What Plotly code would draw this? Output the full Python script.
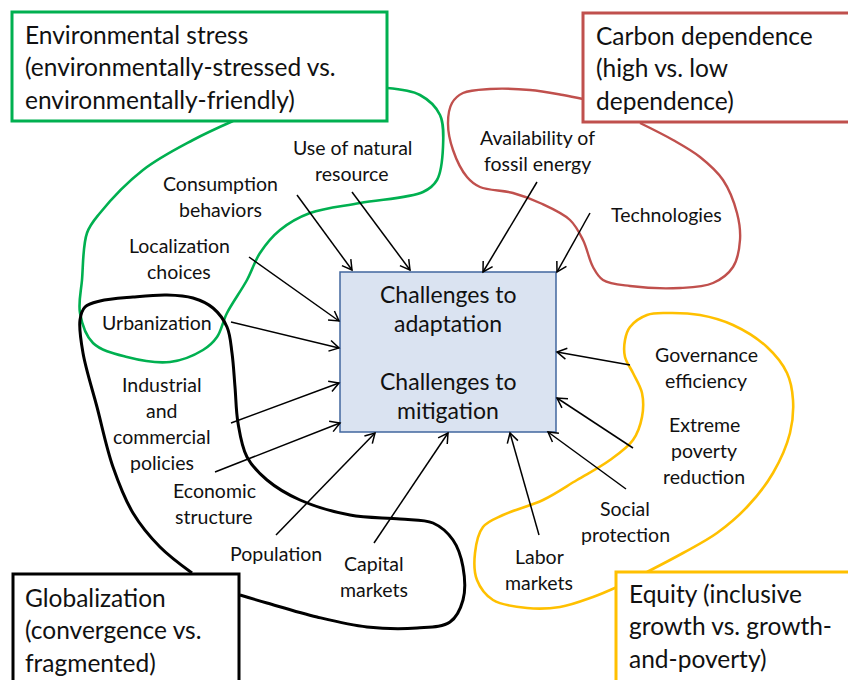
import math
import plotly.graph_objects as go

FONT = "Lato, 'Open Sans', sans-serif"

# ---- central box ----
center_box = [340, 272, 556, 432]
center_lines = ["Challenges to", "adaptation", "", "Challenges to", "mitigation"]
center_line_y = [294, 323, 352, 381, 410]

# ---- dimension frames (x0, y0, x1, y1) ----
frame_names = ["env", "carbon", "glob", "equity"]
frame_rects = [[12, 12, 387, 121], [583, 13, 875, 122], [13, 574, 239, 700], [616, 572, 875, 700]]
frame_colors = ["#00B050", "#C0504D", "#000000", "#FFC000"]
frame_text = [
    ["Environmental stress", "(environmentally-stressed vs.", "environmentally-friendly)"],
    ["Carbon dependence", "(high vs. low", "dependence)"],
    ["Globalization", "(convergence vs.", "fragmented)"],
    ["Equity (inclusive", "growth vs. growth-", "and-poverty)"],
]
frame_text_x = [23, 594, 23, 627]
frame_text_y = [34, 35, 597, 593]

# ---- enclosing curves ----
green_x = [387, 420, 440, 443, 437, 423, 360, 310, 280, 260, 247, 227, 217, 203, 170, 127, 93, 80, 82, 87, 100, 143, 193, 233]
green_y = [88, 95, 115, 147, 180, 192, 203, 213, 230, 253, 280, 313, 337, 350, 362, 357, 343, 313, 280, 233, 213, 170, 140, 121]
red_x = [583, 563, 530, 490, 463, 452, 448, 453, 467, 480, 513, 540, 570, 583, 593, 603, 630, 680, 713, 733, 740, 737, 723, 700, 673, 640]
red_y = [99, 95, 90, 89, 93, 103, 123, 150, 177, 187, 193, 203, 220, 240, 267, 280, 286, 288, 283, 267, 240, 213, 180, 157, 140, 123]
black_x = [192, 160, 133, 113, 97, 83, 80, 85, 100, 133, 167, 193, 213, 227, 232, 235, 238, 247, 267, 300, 350, 400, 433, 453, 463, 463, 450, 417, 367, 317, 267, 240]
black_y = [573, 547, 513, 467, 407, 353, 320, 307, 301, 297, 295, 298, 308, 327, 353, 387, 423, 457, 480, 500, 515, 519, 523, 540, 567, 600, 622, 628, 627, 617, 603, 595]
yellow_x = [617, 593, 560, 527, 493, 477, 475, 483, 503, 543, 577, 610, 633, 642, 642, 633, 625, 625, 630, 647, 667, 700, 733, 767, 787, 793, 790, 773, 747, 717, 683, 647]
yellow_y = [587, 597, 607, 608, 600, 580, 553, 527, 515, 500, 480, 460, 440, 417, 393, 373, 357, 340, 327, 315, 313, 315, 325, 347, 373, 400, 433, 473, 507, 533, 553, 572]

# ---- factor labels ----
factor_lines = [
    ["Use of natural", "resource"],
    ["Consumption", "behaviors"],
    ["Localization", "choices"],
    ["Urbanization"],
    ["Industrial", "and", "commercial", "policies"],
    ["Economic", "structure"],
    ["Population"],
    ["Capital", "markets"],
    ["Availability of", "fossil energy"],
    ["Technologies"],
    ["Governance", "efficiency"],
    ["Extreme", "poverty", "reduction"],
    ["Social", "protection"],
    ["Labor", "markets"],
]
factor_x = [352, 220, 179, 157, 162, 214, 276, 374, 537, 666, 706, 704, 625, 539]
factor_y = [147, 183, 245, 322, 384, 490, 553, 563, 137, 214, 354, 424, 508, 556]

# ---- arrows (tail -> head) ----
tail_x = [297, 352, 249, 231, 231, 215, 276, 374, 537, 590, 630, 633, 626, 539]
tail_y = [195, 192, 257, 322, 423, 472, 535, 543, 182, 213, 365, 448, 489, 535]
head_x = [352, 410, 339, 339, 339, 340, 375, 448, 483, 557, 557, 557, 548, 510]
head_y = [270, 270, 321, 348, 383, 423, 433, 433, 272, 272, 352, 398, 432, 433]

fig = go.Figure()

for xs, ys, col, w in [(green_x, green_y, "#00B050", 2.6), (red_x, red_y, "#C0504D", 2.4),
                       (black_x, black_y, "#000000", 3), (yellow_x, yellow_y, "#FFC000", 2.6)]:
    fig.add_trace(go.Scatter(x=xs, y=ys, mode="lines", line=dict(color=col, width=w, shape="spline", smoothing=1.0),
                             hoverinfo="skip", showlegend=False))

shapes = []
for (x0, y0, x1, y1), col in zip(frame_rects, frame_colors):
    shapes.append(dict(type="rect", x0=x0, y0=y0, x1=x1, y1=y1, xref="x", yref="y",
                       line=dict(color=col, width=3), fillcolor="white", layer="above"))
shapes.append(dict(type="rect", x0=center_box[0], y0=center_box[1], x1=center_box[2], y1=center_box[3],
                   xref="x", yref="y", line=dict(color="#41679F", width=1.5), fillcolor="#DAE3F1", layer="above"))
L, ang = 11, math.radians(30)
for tx, ty, hx, hy in zip(tail_x, tail_y, head_x, head_y):
    shapes.append(dict(type="line", x0=tx, y0=ty, x1=hx, y1=hy, xref="x", yref="y",
                       line=dict(color="black", width=1.5), layer="above"))
    dx, dy = hx - tx, hy - ty
    n = math.hypot(dx, dy)
    ux, uy = dx / n, dy / n
    pts = []
    for s in (1, -1):
        c, sn = math.cos(s * ang), math.sin(s * ang)
        rx, ry = ux * c - uy * sn, ux * sn + uy * c
        pts.append((hx - L * rx, hy - L * ry))
    path = f"M{pts[0][0]:.2f},{pts[0][1]:.2f} L{hx},{hy} L{pts[1][0]:.2f},{pts[1][1]:.2f}"
    shapes.append(dict(type="path", path=path, xref="x", yref="y",
                       line=dict(color="black", width=1.5), layer="above"))

annotations = []
for line, y in zip(center_lines, center_line_y):
    if line:
        annotations.append(dict(x=448, y=y, text=line, showarrow=False, xanchor="center", yanchor="middle",
                                font=dict(family=FONT, size=23, color="#111111")))
for lines, x, y in zip(frame_text, frame_text_x, frame_text_y):
    for i, line in enumerate(lines):
        annotations.append(dict(x=x, y=y + i * 32.5, text=line, showarrow=False, xanchor="left", yanchor="middle",
                                font=dict(family=FONT, size=24.5, color="#111111")))
for lines, x, y in zip(factor_lines, factor_x, factor_y):
    for i, line in enumerate(lines):
        annotations.append(dict(x=x, y=y + i * 26, text=line, showarrow=False, xanchor="center", yanchor="middle",
                                font=dict(family=FONT, size=19.5, color="#111111")))

# the page body adds an 8px offset; shift ranges so diagram units equal window pixels
OFF = 8
fig.update_layout(
    width=856, height=680, margin=dict(l=0, r=0, t=0, b=0),
    paper_bgcolor="white", plot_bgcolor="white",
    xaxis=dict(range=[OFF, 856 + OFF], visible=False, fixedrange=True),
    yaxis=dict(range=[680 + OFF, OFF], visible=False, fixedrange=True),
    shapes=shapes, annotations=annotations, showlegend=False,
)
fig.write_html("out.html")
